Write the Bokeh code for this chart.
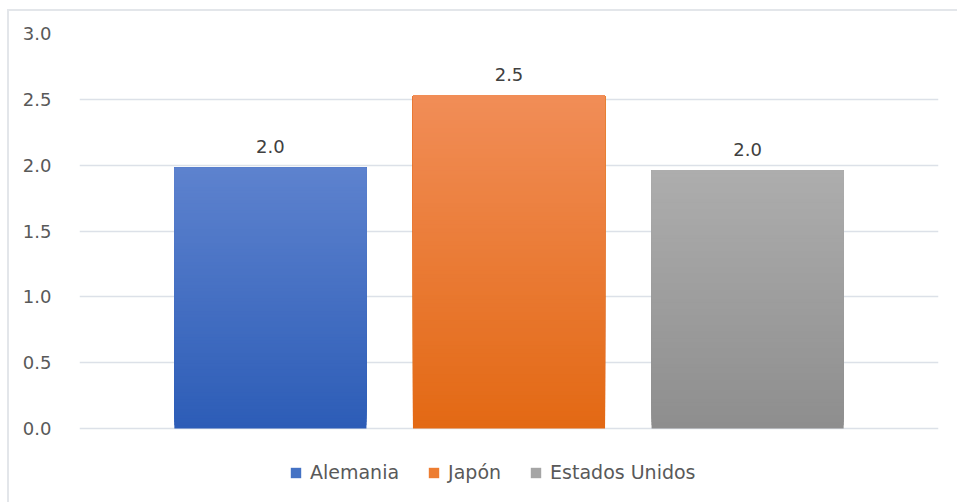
from bokeh.plotting import figure
from bokeh.models import Range1d, FixedTicker, NumeralTickFormatter, Legend, LegendItem, ColumnDataSource
from bokeh.core.properties import value
from bokeh.embed import file_html
from bokeh.resources import INLINE

# ---- data ----
categories = ["Alemania", "Japón", "Estados Unidos"]
values = [1.98, 2.53, 1.96]
y_ticks = [0.0, 0.5, 1.0, 1.5, 2.0, 2.5, 3.0]

# ---- styles ----
top_colors = ["#5d82ce", "#f18d57", "#adadad"]
bottom_colors = ["#2d5db7", "#e36914", "#8e8e8e"]
legend_colors = ["#4472c4", "#ed7d31", "#a5a5a5"]
FONT = "DejaVu Sans"
N = 80


def mix(c1, c2, t):
    a = [int(c1[i:i + 2], 16) for i in (1, 3, 5)]
    b = [int(c2[i:i + 2], 16) for i in (1, 3, 5)]
    return "#%02x%02x%02x" % tuple(round(a[k] + (b[k] - a[k]) * t) for k in range(3))


# frame extends to the bottom edge so the legend can sit inside it
p = figure(width=950, height=493, output_backend="svg", toolbar_location=None,
           x_range=Range1d(-0.8, 2.8), y_range=Range1d(-0.5772, 3.0),
           min_border_left=70, min_border_right=21, min_border_top=22, min_border_bottom=0)
p.styles = {"margin-left": "7px", "margin-top": "9px",
            "border-left": "2px solid #e3e6ea", "border-top": "2px solid #e3e6ea"}
p.outline_line_color = None
p.background_fill_color = "white"
p.border_fill_color = "white"

# gradient bars built from the data values (overlapping layers, no seams)
xs, bots, tops, cols = [], [], [], []
for k in range(N):
    for i, v in enumerate(values):
        xs.append(i)
        bots.append(v * k / N)
        tops.append(v)
        cols.append(mix(bottom_colors[i], top_colors[i], k / (N - 1)))
src = ColumnDataSource(dict(x=xs, bottom=bots, top=tops, color=cols))
p.vbar(x="x", bottom="bottom", top="top", width=0.805, fill_color="color", line_color=None,
       source=src)

# data labels
lab = ColumnDataSource(dict(x=list(range(len(values))), y=values, t=["%.1f" % v for v in values]))
p.text(x="x", y="y", text="t", source=lab, text_align="center", text_baseline="middle",
       y_offset=-21, text_font=value(FONT), text_font_size="18px", text_color="#404040")

# axes
p.xaxis.visible = False
p.yaxis.ticker = FixedTicker(ticks=y_ticks)
p.yaxis.formatter = NumeralTickFormatter(format="0.0")
p.yaxis.axis_line_color = None
p.yaxis.major_tick_line_color = None
p.yaxis.minor_tick_line_color = None
p.yaxis.major_label_standoff = 22
p.yaxis.major_label_text_font = FONT
p.yaxis.major_label_text_font_size = "18px"
p.yaxis.major_label_text_color = "#595959"
p.xgrid.visible = False
p.ygrid.ticker = FixedTicker(ticks=y_ticks)
p.ygrid.grid_line_color = "#dce1e8"
p.ygrid.grid_line_width = 1.5

# legend
items = []
for name, c in zip(categories, legend_colors):
    r = p.vbar(x=[0], top=[0], width=0.5, fill_color=c, line_color=None)
    items.append(LegendItem(label=name, renderers=[r]))
leg = Legend(items=items, orientation="horizontal", location=(210, 21),
             glyph_width=13, glyph_height=13, label_standoff=8, spacing=28,
             padding=0, margin=0, border_line_color=None, background_fill_alpha=0,
             label_text_font=FONT, label_text_font_size="19px", label_text_color="#595959")
p.add_layout(leg)

open("out.html", "w").write(file_html(p, INLINE))
